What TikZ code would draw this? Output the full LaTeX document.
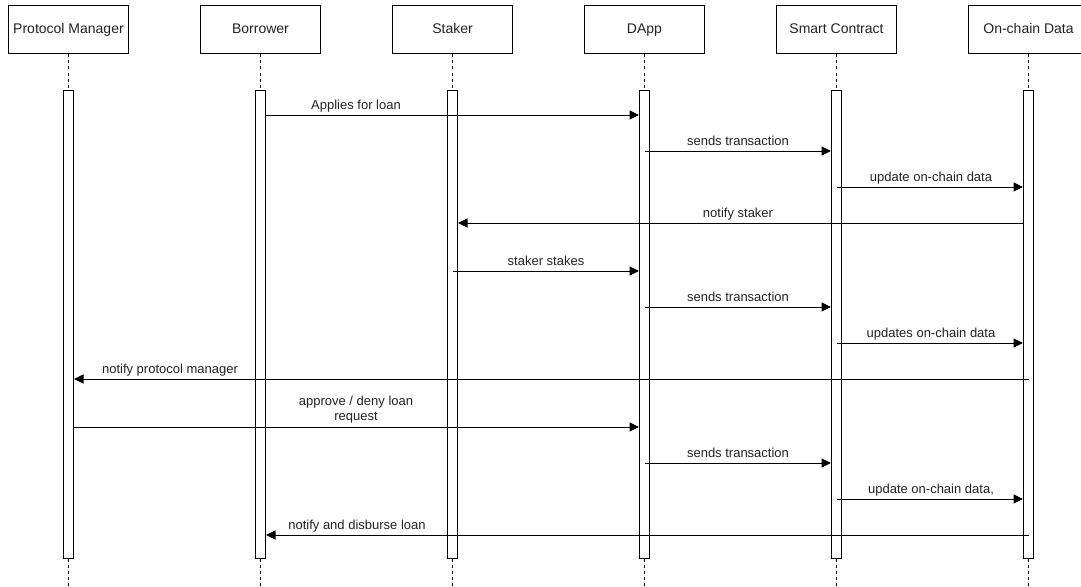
\documentclass[tikz,border=0pt]{standalone}
\usepackage{fontspec}
\setmainfont{Liberation Sans}
\usetikzlibrary{arrows.meta}
\definecolor{ink}{HTML}{222222}
\begin{document}
\begin{tikzpicture}[x=1pt,y=-1pt,
  actor/.style={draw, line width=1pt, minimum width=120pt, minimum height=48pt,
    inner sep=0pt, text height=10pt, text depth=3pt,
    font=\fontsize{14}{16}\selectfont, text=ink},
  activation/.style={draw, line width=1pt, fill=white, minimum width=10pt,
    minimum height=468pt, inner sep=0pt},
  lifeline/.style={line width=1pt, dash pattern=on 3pt off 3pt},
  msg/.style={line width=1pt, -{Triangle[length=9.5pt,width=9pt]}},
  lbl/.style={font=\fontsize{13}{15}\selectfont, text=ink, inner sep=0pt, anchor=base}
]
\clip (0,0) rectangle (1081,586);
\useasboundingbox (0,0) rectangle (1081,586);

% participants
\foreach \n/\x/\t in {PM/68.5/Protocol Manager, BO/260.5/Borrower, ST/452.5/Staker,
                       DA/644.5/DApp, SC/836.5/Smart Contract, OD/1028.5/On-chain Data}{
  \node[actor] (h\n) at (\x,30) {\t};
  \node[activation] (b\n) at (\x,324.5) {};
  \coordinate (e\n) at (\x,586);
  \draw[lifeline] (h\n.south) -- (b\n.north);
  \draw[lifeline] (b\n.south) -- (e\n);
}

% message rows
\foreach \i/\y in {1/115,2/151,3/187,4/223,5/271,6/307,7/343,8/379,9/427,10/463,11/499,12/535}{
  \coordinate (m\i) at (0,\y);
}

% messages
\draw[msg] (bBO.east |- m1) -- (bDA.west |- m1);
\node[lbl] (t1) at (356,109.5) {Applies for loan};

\draw[msg] (bDA |- m2) -- (bSC.west |- m2);
\node[lbl] (t2) at (738,145.5) {sends transaction};

\draw[msg] (bSC |- m3) -- (bOD.west |- m3);
\node[lbl] (t3) at (931,181.5) {update on-chain data};

\draw[msg] (bOD.west |- m4) -- (bST.east |- m4);
\node[lbl] (t4) at (738,217.5) {notify staker};

\draw[msg] (bST |- m5) -- (bDA.west |- m5);
\node[lbl] (t5) at (546,265.5) {staker stakes};

\draw[msg] (bDA |- m6) -- (bSC.west |- m6);
\node[lbl] (t6) at (738,301.5) {sends transaction};

\draw[msg] (bSC |- m7) -- (bOD.west |- m7);
\node[lbl] (t7) at (931,337.5) {updates on-chain data};

\draw[msg] (bOD |- m8) -- (bPM.east |- m8);
\node[lbl] (t8) at (170,373.5) {notify protocol manager};

\draw[msg] (bPM.east |- m9) -- (bDA.west |- m9);
\node[lbl, anchor=south, align=center] (t9) at (356,423) {approve / deny loan\\request};

\draw[msg] (bDA |- m10) -- (bSC.west |- m10);
\node[lbl] (t10) at (738,457.5) {sends transaction};

\draw[msg] (bSC |- m11) -- (bOD.west |- m11);
\node[lbl] (t11) at (931,493.5) {update on-chain data,};

\draw[msg] (bOD |- m12) -- (bBO.east |- m12);
\node[lbl] (t12) at (357,529.5) {notify and disburse loan};
\end{tikzpicture}
\end{document}
